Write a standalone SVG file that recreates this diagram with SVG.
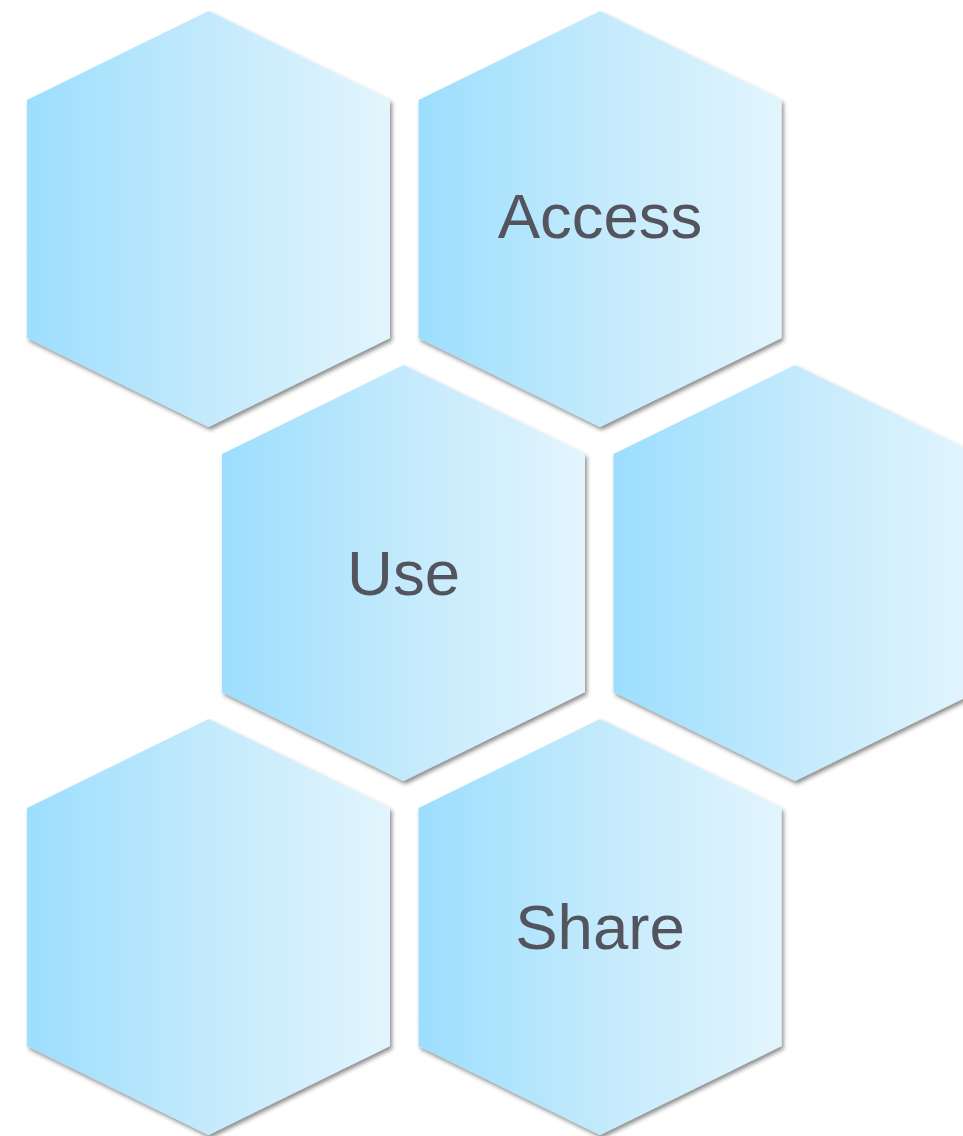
<svg xmlns="http://www.w3.org/2000/svg" width="963" height="1136" viewBox="0 0 963 1136">
  <defs>
    <linearGradient id="hexFill" x1="0" y1="0" x2="1" y2="0">
      <stop offset="0" stop-color="#9cdefe"/>
      <stop offset="0.5" stop-color="#c3eafc"/>
      <stop offset="1" stop-color="#e2f5fd"/>
    </linearGradient>
    <filter id="shadow" x="-10%" y="-10%" width="120%" height="120%">
      <feDropShadow dx="2" dy="3" stdDeviation="2.2" flood-color="#000" flood-opacity="0.45"/>
    </filter>
    <!-- pointy-top hexagon, 363 wide, 416 tall, origin at top-left of its box -->
    <polygon id="hex" points="181.5,0 363,89 363,327 181.5,416 0,327 0,89"/>
  </defs>
  <style>
    .hex { fill: url(#hexFill); filter: url(#shadow); }
    .label { font-family: "Liberation Sans", Arial, sans-serif; font-size: 63.5px; fill: #54545e; text-anchor: middle; }
  </style>

  <g id="hex-top-left">
    <use href="#hex" class="hex" x="27" y="11"/>
  </g>
  <g id="hex-access">
    <use href="#hex" class="hex" x="418.5" y="11"/>
    <text class="label" x="600" y="238">Access</text>
  </g>
  <g id="hex-use">
    <use href="#hex" class="hex" x="222" y="365"/>
    <text class="label" x="403.5" y="595">Use</text>
  </g>
  <g id="hex-mid-right">
    <use href="#hex" class="hex" x="613.5" y="365"/>
  </g>
  <g id="hex-bottom-left">
    <use href="#hex" class="hex" x="27" y="719"/>
  </g>
  <g id="hex-share">
    <use href="#hex" class="hex" x="418.5" y="719"/>
    <text class="label" x="600" y="949">Share</text>
  </g>
  <g id="connectors"/>
</svg>
